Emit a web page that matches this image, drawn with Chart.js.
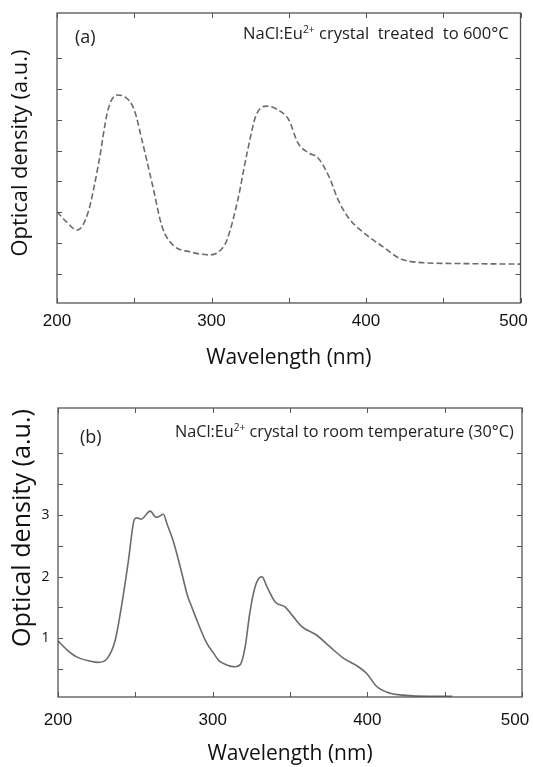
<!DOCTYPE html>
<html>
<head>
<meta charset="utf-8">
<script src="https://cdn.jsdelivr.net/npm/chart.js@4.4.0/dist/chart.umd.min.js"></script>
<style>
body{margin:0;background:#fff;}
canvas{display:block;}
</style>
</head>
<body>
<canvas id="chart-a" width="533" height="380"></canvas>
<canvas id="chart-b" width="533" height="387"></canvas>
<script>
// (a) crystal treated to 600°C - dashed curve
var wavelengthA=[200,206,213,220,227,233,239,244,250,255,262,268,275,286,299,306,310,317,323,329,336,343,350,356,363,369,376,382,389,399,411,422,433,459,500];
var densityA=[1.51,1.35,1.21,1.49,2.30,3.16,3.40,3.37,3.16,2.67,1.92,1.27,0.97,0.86,0.81,0.89,1.05,1.70,2.46,3.08,3.22,3.16,3.00,2.62,2.46,2.38,2.08,1.70,1.40,1.16,0.94,0.75,0.69,0.67,0.66];
// (b) crystal at room temperature - solid curve
var wavelengthB=[200,206,212,221,226,232,237,241,245.6,249.3,251,253.8,259.6,263.5,265,268.2,270.4,274.7,279,284,286,290,296,300.6,304,309,314.5,318,321,324,327.5,331.8,335,340.4,346.8,351.2,357.6,367.3,375.9,384.5,394.2,399.6,406.1,414.7,423,440,455];
var densityB=[0.96,0.81,0.70,0.63,0.61,0.68,0.97,1.51,2.27,2.92,2.95,2.93,3.06,2.96,2.97,3.01,2.86,2.56,2.16,1.67,1.54,1.28,0.93,0.76,0.64,0.57,0.54,0.58,0.86,1.41,1.84,2.00,1.84,1.59,1.51,1.38,1.19,1.05,0.86,0.68,0.54,0.43,0.22,0.11,0.08,0.06,0.06];
var xLabels=[200,300,400,500];
var yLabelsB=[1,2,3];
var xTitle='Wavelength (nm)';
var yTitle='Optical density (a.u.)';
var labelA=['NaCl:Eu','2+',' crystal  treated  to 600°C'];
var labelB=['NaCl:Eu','2+',' crystal to room temperature (30°C)'];

function points(xs,ys)
{
    var out=[];
    for(let i=0;i<xs.length;i++) out.push({x:xs[i],y:ys[i]});
    return out;
}

// frame + inward ticks on all four sides
var frameTicks={
    id:'frameTicks',
    afterDatasetsDraw:function(chart)
    {
        var ctx=chart.ctx,a=chart.chartArea,xs=chart.scales.x,ys=chart.scales.y;
        ctx.save();
        ctx.strokeStyle='#555';
        ctx.lineWidth=1.3;
        ctx.strokeRect(a.left,a.top,a.right-a.left,a.bottom-a.top);
        ctx.lineWidth=1;
        ctx.beginPath();
        xs.ticks.forEach(function(t){
            if(t.value%50!==0) return;
            var px=Math.round(xs.getPixelForValue(t.value))+0.5;
            ctx.moveTo(px,a.bottom);ctx.lineTo(px,a.bottom-5);
            ctx.moveTo(px,a.top);ctx.lineTo(px,a.top+5);
        });
        ys.ticks.forEach(function(t){
            if(Math.abs(t.value*2-Math.round(t.value*2))>1e-6) return;
            var py=Math.round(ys.getPixelForValue(t.value))+0.5;
            ctx.moveTo(a.left,py);ctx.lineTo(a.left+5,py);
            ctx.moveTo(a.right,py);ctx.lineTo(a.right-5,py);
        });
        ctx.stroke();
        ctx.restore();
    }
};

function sizeFor(ctx,parts,width)
{
    ctx.font='100px "Open Sans"';
    var w=ctx.measureText(parts[0]).width+ctx.measureText(parts[2]).width;
    ctx.font='62px "Open Sans"';
    w+=ctx.measureText(parts[1]).width;
    return 100*width/w;
}

function notes(cfg)
{
    return {
        id:'notes',
        afterDraw:function(chart)
        {
            var ctx=chart.ctx;
            ctx.save();
            ctx.fillStyle='#222';
            ctx.textBaseline='alphabetic';
            ctx.textAlign='left';
            ctx.font=cfg.tagSize+'px "Open Sans"';
            ctx.fillText(cfg.tag,cfg.tagX,cfg.tagY);
            var s=sizeFor(ctx,cfg.label,cfg.labelW);
            var x=cfg.labelX;
            ctx.font=s+'px "Open Sans"';
            ctx.fillText(cfg.label[0],x,cfg.labelY);
            x+=ctx.measureText(cfg.label[0]).width;
            ctx.font=(s*0.62)+'px "Open Sans"';
            ctx.fillText(cfg.label[1],x,cfg.labelY-s*0.36);
            x+=ctx.measureText(cfg.label[1]).width;
            ctx.font=s+'px "Open Sans"';
            ctx.fillText(cfg.label[2],x,cfg.labelY);
            // y axis title
            ctx.font='100px "Open Sans"';
            var ts=100*cfg.titleW/ctx.measureText(yTitle).width;
            ctx.translate(cfg.titleX,cfg.titleY);
            ctx.rotate(-Math.PI/2);
            ctx.textAlign='center';
            ctx.textBaseline='middle';
            ctx.fillStyle='#111';
            ctx.font=ts+'px "Open Sans"';
            ctx.fillText(yTitle,0,0);
            ctx.restore();
        }
    };
}

function makeChart(id,data,dashed,opt)
{
    return new Chart(document.getElementById(id).getContext('2d'),{
        type:'line',
        data:{
            datasets:[{
                data:data,
                borderColor:'#6b6b6b',
                borderWidth:1.6,
                borderDash:dashed?[6,3]:[],
                pointRadius:0,
                fill:false,
                cubicInterpolationMode:'monotone'
            }]
        },
        options:{
            responsive:false,
            animation:false,
            devicePixelRatio:1,
            layout:{padding:opt.padding},
            plugins:{legend:{display:false},tooltip:{enabled:false}},
            scales:{
                x:{
                    type:'linear',min:200,max:500,
                    grid:{display:false,drawTicks:false},
                    border:{display:false},
                    ticks:{
                        stepSize:50,padding:opt.xPad,color:'#111',maxRotation:0,autoSkip:false,
                        font:{family:'"Liberation Sans"',size:17},
                        callback:function(v){
                            if(xLabels.indexOf(v)<0) return '';
                            // last label sits a little inside the right edge, as in the figure
                            return v===500?'500   ':String(v);
                        }
                    },
                    title:{display:true,text:xTitle,color:'#111',font:{family:'"Open Sans"',size:21},padding:{top:0,bottom:opt.titlePad}},
                    afterFit:function(s){s.height=opt.xHeight;s.paddingLeft=0;s.paddingRight=0;}
                },
                y:{
                    min:opt.yMin,max:opt.yMax,
                    grid:{display:false,drawTicks:false},
                    border:{display:false},
                    ticks:{
                        stepSize:0.5,padding:8.5,color:'#111',
                        font:{family:'"Open Sans"',size:14},
                        callback:function(v){return opt.yLabels.indexOf(v)>=0?String(v):'';}
                    },
                    afterFit:function(s){s.width=opt.yWidth;s.paddingTop=0;s.paddingBottom=0;}
                }
            }
        },
        plugins:[frameTicks,notes(opt.notes)]
    });
}

window.onload=function()
{
    makeChart('chart-a',points(wavelengthA,densityA),true,{
        padding:{left:0,right:12.5,top:13,bottom:0},
        xPad:8,xHeight:77,titlePad:9,yWidth:57,yMin:0.03,yMax:4.73,yLabels:[],
        notes:{tag:'(a)',tagSize:18,tagX:75,tagY:43,label:labelA,labelX:243,labelY:39,labelW:266,titleX:21,titleY:153,titleW:207}
    });
    makeChart('chart-b',points(wavelengthB,densityB),false,{
        padding:{left:0,right:11,top:28,bottom:0},
        xPad:13,xHeight:70,titlePad:0,yWidth:58,yMin:0.05,yMax:4.73,yLabels:yLabelsB,
        notes:{tag:'(b)',tagSize:18,tagX:80,tagY:63,label:labelB,labelX:175,labelY:57,labelW:339,titleX:23,titleY:148,titleW:238}
    });
}
</script>
</body>
</html>
